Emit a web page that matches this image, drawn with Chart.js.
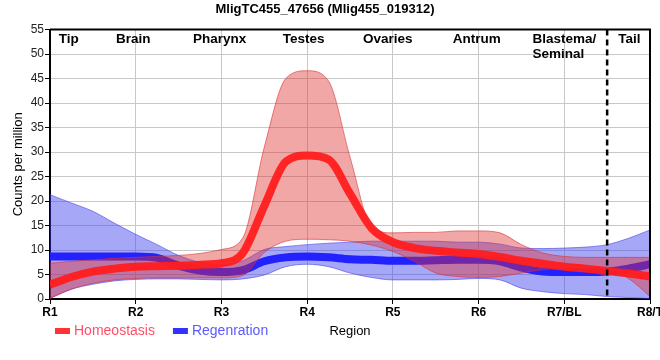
<!DOCTYPE html>
<html>
<head>
<meta charset="utf-8">
<script src="https://cdn.jsdelivr.net/npm/chart.js@4.4.1/dist/chart.umd.min.js"></script>
<style>
  html, body { margin: 0; padding: 0; background: #fff; }
  #wrap { width: 660px; height: 360px; }
</style>
</head>
<body>
<div id="wrap"><canvas id="chart" width="660" height="360"></canvas></div>
<script>
/* ─── Data ───────────────────────────────────────────────────────────────── */
const regionTicks = ['R1', 'R2', 'R3', 'R4', 'R5', 'R6', 'R7/BL', 'R8/T'];
const positions   = [1, 1.25, 1.5, 1.75, 2, 2.25, 2.5, 2.75, 3, 3.25, 3.5, 3.75, 4, 4.25, 4.5,
                     4.75, 5, 5.25, 5.5, 5.75, 6, 6.25, 6.5, 6.75, 7, 7.25, 7.5, 7.75, 8];

const homeoMean  = [2.9, 4.5, 5.6, 6.2, 6.6, 6.7, 6.8, 7.0, 7.3, 9.4, 19, 28, 29.3, 28.5, 21.5,
                    14.5, 11.6, 10.4, 9.85, 9.5, 9.2, 8.6, 7.8, 7.2, 6.6, 6.2, 5.7, 5.2, 4.6];
const homeoUpper = [7.3, 7.7, 8.0, 8.3, 8.5, 8.7, 8.9, 9.3, 10.1, 12.5, 31, 45, 46.6, 44.5, 29,
                    14.8, 13.5, 13.6, 13.6, 13.9, 13.9, 13.5, 11.1, 9.4, 8.7, 8.5, 8.5, 8.5, 8.5];
const homeoLower = [0.1, 2.0, 3.2, 3.9, 4.2, 4.3, 4.3, 4.3, 4.3, 4.8, 9.5, 11.8, 12.2, 12.1, 11.8,
                    11.0, 9.7, 7.7, 5.3, 4.6, 4.4, 4.6, 5.3, 6.0, 6.3, 6.3, 6.0, 4.2, 0.5];

const regenMean  = [8.7, 8.7, 8.7, 8.7, 8.7, 8.4, 6.8, 5.8, 5.5, 5.9, 7.7, 8.5, 8.7, 8.5, 8.1,
                    8.0, 7.8, 7.8, 7.9, 8.0, 8.0, 7.7, 6.4, 5.6, 5.5, 5.5, 5.6, 6.2, 7.1];
const regenUpper = [21.3, 19.6, 17.9, 15.5, 13.2, 11.1, 8.9, 7.5, 7.0, 7.8, 10.1, 10.7, 11.1, 11.4, 11.6,
                    11.8, 11.8, 11.8, 11.8, 11.6, 11.6, 11.2, 10.4, 10.3, 10.4, 10.6, 11.1, 12.4, 14.1];
const regenLower = [0.2, 2.0, 3.0, 3.7, 4.0, 4.1, 4.1, 4.0, 3.9, 4.1, 4.9, 6.6, 7.1, 6.6, 5.3,
                    4.4, 3.9, 3.9, 3.9, 4.0, 4.2, 3.9, 2.2, 1.5, 1.1, 0.9, 0.5, 0.3, 0.1];

const tissueNames = ['Tip', 'Brain', 'Pharynx', 'Testes', 'Ovaries', 'Antrum', 'Blastema/\nSeminal', 'Tail'];
const tissueAt    = [1.22, 1.97, 2.98, 3.96, 4.94, 5.98, 7, 7.76];
const tailBoundary = 7.5;

/* ─── Helpers ────────────────────────────────────────────────────────────── */
const SANS = "'Liberation Sans', Arial, sans-serif";
const toXY = ys => positions.map((x, i) => ({ x, y: ys[i] }));

const legendItems = [
  { text: 'Homeostasis', box: '#ff3333', color: '#ff4f68' },
  { text: 'Regenration', box: '#3333ff', color: '#5a5aff' }
];

/* ─── Overlay: frame, tail boundary, tissue names, legend ───────────────── */
const overlay = {
  id: 'overlay',
  afterDatasetsDraw(chart) {
    const { ctx, chartArea: a, scales: { x } } = chart;
    ctx.save();
    ctx.strokeStyle = '#000';

    const bx = x.getPixelForValue(tailBoundary);
    ctx.lineWidth = 2.5;
    ctx.setLineDash([6, 4]);
    ctx.beginPath();
    ctx.moveTo(bx, a.top);
    ctx.lineTo(bx, a.bottom);
    ctx.stroke();
    ctx.setLineDash([]);

    ctx.lineWidth = 2;
    ctx.beginPath();
    ctx.moveTo(a.left, a.top);
    ctx.lineTo(a.right, a.top);
    ctx.lineTo(a.right, a.bottom);
    ctx.stroke();

    ctx.fillStyle = '#000';
    ctx.font = `bold 13.5px ${SANS}`;
    ctx.textBaseline = 'middle';
    ctx.textAlign = 'left';
    tissueNames.forEach((name, i) => {
      const lines = name.split('\n');
      const cx = x.getPixelForValue(tissueAt[i]);
      const w = Math.max(...lines.map(l => ctx.measureText(l).width));
      lines.forEach((l, j) => ctx.fillText(l, cx - w / 2, a.top + 10 + j * 15));
    });
    ctx.restore();
  },
  afterDraw(chart) {
    const { ctx } = chart;
    ctx.save();
    ctx.font = `14px ${SANS}`;
    ctx.textBaseline = 'middle';
    ctx.textAlign = 'left';
    let cx = 55;
    legendItems.forEach(item => {
      ctx.fillStyle = item.box;
      ctx.fillRect(cx, 328, 15, 6);
      ctx.fillStyle = item.color;
      ctx.fillText(item.text, cx + 19, 331);
      cx += 19 + ctx.measureText(item.text).width + 18;
    });
    ctx.restore();
  }
};

/* ─── Chart ──────────────────────────────────────────────────────────────── */
const bandLine = (data, fill, bg, border, order) => ({
  data: toXY(data), fill, backgroundColor: bg, borderColor: border,
  borderWidth: 1, pointRadius: 0, cubicInterpolationMode: 'monotone', order
});

new Chart(document.getElementById('chart'), {
  type: 'line',
  data: {
    datasets: [
      {
        label: 'Homeostasis', data: toXY(homeoMean),
        borderColor: 'rgba(255,30,30,0.95)', borderWidth: 8, pointRadius: 0,
        fill: false, cubicInterpolationMode: 'monotone', order: 0
      },
      bandLine(homeoUpper, { target: 2 }, 'rgba(225,45,45,0.42)', 'rgba(215,50,50,0.6)', 1),
      bandLine(homeoLower, false, 'transparent', 'rgba(215,50,50,0.6)', 1),
      {
        label: 'Regenration', data: toXY(regenMean),
        borderColor: '#2222ff', borderWidth: 8, pointRadius: 0,
        fill: false, cubicInterpolationMode: 'monotone', order: 2
      },
      bandLine(regenUpper, { target: 5 }, 'rgba(60,60,240,0.45)', 'rgba(70,70,235,0.6)', 3),
      bandLine(regenLower, false, 'transparent', 'rgba(70,70,235,0.6)', 3)
    ]
  },
  options: {
    responsive: false,
    animation: false,
    devicePixelRatio: 1,
    layout: { padding: { left: 0, right: 10, top: 0, bottom: 15 } },
    plugins: {
      legend: { display: false },
      tooltip: { enabled: false },
      title: {
        display: true,
        text: 'MligTC455_47656 (Mlig455_019312)',
        color: '#000',
        font: { family: SANS, size: 13, weight: 'bold' },
        padding: { top: 2, bottom: 12 }
      }
    },
    scales: {
      x: {
        type: 'linear', min: 1, max: 8,
        ticks: {
          stepSize: 1, autoSkip: false, maxRotation: 0, padding: 1, color: '#000',
          font: { family: SANS, size: 12, weight: 'bold' },
          callback: v => Number.isInteger(v) ? regionTicks[v - 1] : ''
        },
        grid: { color: '#c8c8c8', tickColor: '#000', tickLength: 5 },
        border: { color: '#000', width: 2 },
        title: {
          display: true, text: 'Region', color: '#000',
          font: { family: SANS, size: 13 }, padding: { top: 0, bottom: 6 }
        },
        afterFit: s => { s.paddingRight = 0; s.paddingLeft = 0; s.height = 46; }
      },
      y: {
        min: 0, max: 55,
        ticks: { stepSize: 5, padding: 1, color: '#222', font: { family: SANS, size: 12 } },
        grid: { color: '#c8c8c8', tickColor: '#000', tickLength: 5 },
        border: { color: '#000', width: 2 },
        title: {
          display: true, text: 'Counts per million', color: '#000',
          font: { family: SANS, size: 13 }, padding: { top: 11, bottom: 0 }
        },
        afterFit: s => { s.width = 50; }
      }
    }
  },
  plugins: [overlay]
});
</script>
</body>
</html>
